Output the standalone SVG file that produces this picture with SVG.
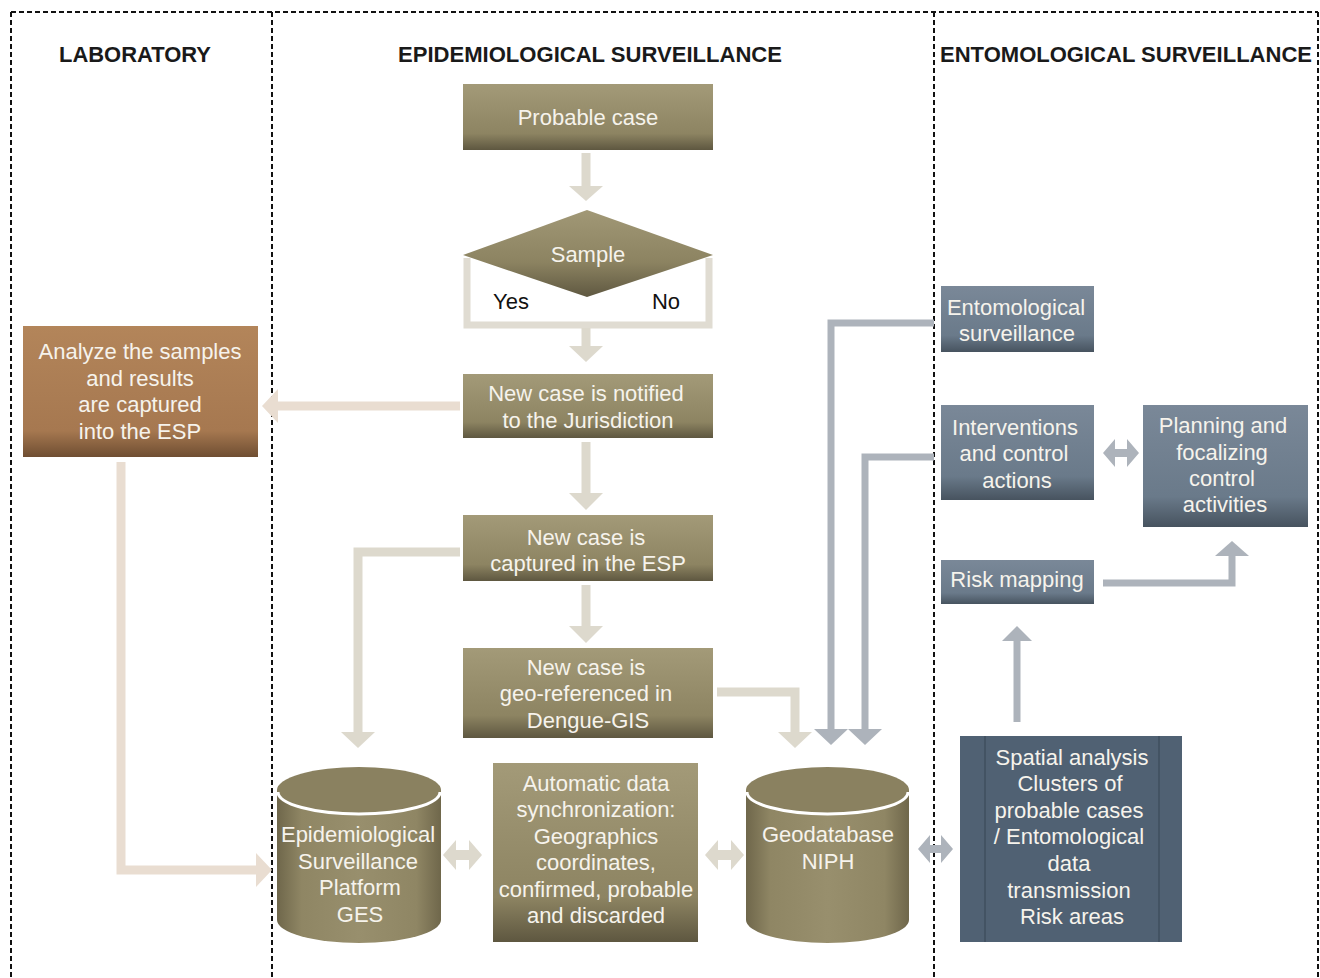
<svg xmlns="http://www.w3.org/2000/svg" width="1320" height="978" viewBox="0 0 1320 978">
<defs>
<linearGradient id="gOl" x1="0" y1="0" x2="0" y2="1">
<stop offset="0" stop-color="#a39a78"/><stop offset="0.75" stop-color="#8d8462"/><stop offset="1" stop-color="#5e5740"/>
</linearGradient>
<linearGradient id="gBr" x1="0" y1="0" x2="0" y2="1">
<stop offset="0" stop-color="#b3855a"/><stop offset="0.8" stop-color="#a67850"/><stop offset="1" stop-color="#6f4e32"/>
</linearGradient>
<linearGradient id="gGr" x1="0" y1="0" x2="0" y2="1">
<stop offset="0" stop-color="#7a8898"/><stop offset="0.75" stop-color="#6a7a8a"/><stop offset="1" stop-color="#47535f"/>
</linearGradient>
<linearGradient id="gCyl" x1="0" y1="0" x2="1" y2="0">
<stop offset="0" stop-color="#6f674b"/><stop offset="0.15" stop-color="#8f8664"/><stop offset="0.5" stop-color="#988f6d"/><stop offset="0.85" stop-color="#8f8664"/><stop offset="1" stop-color="#6f674b"/>
</linearGradient>
<linearGradient id="gDia" x1="0" y1="0" x2="0" y2="1">
<stop offset="0" stop-color="#a19876"/><stop offset="0.6" stop-color="#8c8361"/><stop offset="1" stop-color="#5f5841"/>
</linearGradient>
<style>
.frame{stroke:#111;stroke-width:2;stroke-dasharray:5 3;fill:none}
.hd{font-family:"Liberation Sans",Arial,sans-serif;font-weight:bold;font-size:21.5px;fill:#1a1a1a;text-anchor:middle}
.t{font-family:"Liberation Sans",Arial,sans-serif;font-size:22px;fill:#f6f3ec;text-anchor:middle}
.tb{font-family:"Liberation Sans",Arial,sans-serif;font-size:22px;fill:#111;text-anchor:middle}
.bs{fill:none;stroke:#ddd9cd;stroke-width:9}
.bh{fill:#ddd9cd}
.ps{fill:none;stroke:#e9ddd1;stroke-width:9}
.ph{fill:#e9ddd1}
.gs{fill:none;stroke:#adb3bb;stroke-width:7}
.gh{fill:#adb3bb}
.ol{fill:url(#gOl)}
.gr{fill:url(#gGr)}
</style>
</defs>
<rect width="1320" height="978" fill="#ffffff"/>
<g id="frame">
<line class="frame" x1="11" y1="12" x2="1318" y2="12"/>
<line class="frame" x1="11" y1="12" x2="11" y2="978"/>
<line class="frame" x1="272" y1="12" x2="272" y2="978"/>
<line class="frame" x1="934" y1="12" x2="934" y2="978"/>
<line class="frame" x1="1318" y1="12" x2="1318" y2="978"/>
<text class="hd" x="135" y="62" textLength="152" lengthAdjust="spacingAndGlyphs">LABORATORY</text>
<text class="hd" x="590" y="62" textLength="384" lengthAdjust="spacingAndGlyphs">EPIDEMIOLOGICAL SURVEILLANCE</text>
<text class="hd" x="1126" y="62" textLength="372" lengthAdjust="spacingAndGlyphs">ENTOMOLOGICAL SURVEILLANCE</text>
</g>
<g id="connectors">
<line class="bs" x1="586" y1="153" x2="586" y2="187"/>
<polygon class="bh" points="569,186 603,186 586,201"/>
<polyline fill="none" stroke="#e0dcd2" stroke-width="7" points="467,258 467,325 709,325 709,258"/>
<line class="bs" x1="586" y1="328" x2="586" y2="347"/>
<polygon class="bh" points="569,346 603,346 586,362"/>
<line class="bs" x1="586" y1="442" x2="586" y2="494"/>
<polygon class="bh" points="569,493 603,493 586,510"/>
<line class="bs" x1="586" y1="585" x2="586" y2="627"/>
<polygon class="bh" points="569,626 603,626 586,643"/>
<line class="ps" x1="460" y1="406" x2="277" y2="406"/>
<polygon class="ph" points="278,389 278,423 262,406"/>
<polyline class="bs" points="460,552 358,552 358,733"/>
<polygon class="bh" points="341,732 375,732 358,748"/>
<polyline class="bs" points="717,692 795,692 795,733"/>
<polygon class="bh" points="778,732 812,732 795,748"/>
<polyline class="gs" points="934,323 831,323 831,730"/>
<polygon class="gh" points="814,729 848,729 831,745"/>
<polyline class="gs" points="934,457 865,457 865,730"/>
<polygon class="gh" points="848,729 882,729 865,745"/>
<polyline class="ps" points="121,462 121,870 257,870"/>
<polygon class="ph" points="256,853 256,887 272,870"/>
<polygon class="bh" points="443,855 456,840 456,850 469,850 469,840 482,855 469,870 469,860 456,860 456,870"/>
<polygon class="bh" points="705,855 718,840 718,850 731,850 731,840 744,855 731,870 731,860 718,860 718,870"/>
<polygon class="gh" points="918,849 930,835 930,845 941,845 941,835 953,849 941,863 941,853 930,853 930,863"/>
<polygon class="gh" points="1103,453 1115,439 1115,449 1127,449 1127,439 1139,453 1127,467 1127,457 1115,457 1115,467"/>
<polyline class="gs" points="1103,583 1232,583 1232,555"/>
<polygon class="gh" points="1215,556 1249,556 1232,541"/>
<line class="gs" x1="1017" y1="722" x2="1017" y2="640"/>
<polygon class="gh" points="1002,641 1032,641 1017,626"/>
</g>
<g id="probable">
<rect class="ol" x="463" y="84" width="250" height="66"/>
<text class="t" x="588" y="125">Probable case</text>
</g>
<g id="sample">
<polygon fill="url(#gDia)" points="463,255 587,210 713,255 587,297"/>
<text class="t" x="588" y="262">Sample</text>
<text class="tb" x="511" y="309">Yes</text>
<text class="tb" x="666" y="309">No</text>
</g>
<g id="notified">
<rect class="ol" x="463" y="374" width="250" height="64"/>
<text class="t" x="586" y="401">New case is notified</text>
<text class="t" x="588" y="428">to the Jurisdiction</text>
</g>
<g id="analyze">
<rect fill="url(#gBr)" x="23" y="326" width="235" height="131"/>
<text class="t" x="140" y="359">Analyze the samples</text>
<text class="t" x="140" y="386">and results</text>
<text class="t" x="140" y="412">are captured</text>
<text class="t" x="140" y="439">into the ESP</text>
</g>
<g id="captured">
<rect class="ol" x="463" y="515" width="250" height="66"/>
<text class="t" x="586" y="545">New case is</text>
<text class="t" x="588" y="571">captured in the ESP</text>
</g>
<g id="georef">
<rect class="ol" x="463" y="648" width="250" height="90"/>
<text class="t" x="586" y="675">New case is</text>
<text class="t" x="586" y="701">geo-referenced in</text>
<text class="t" x="588" y="728">Dengue-GIS</text>
</g>
<g id="ges">
<path fill="url(#gCyl)" d="M277,790 L277,920 A82,23 0 0 0 441,920 L441,790 Z"/>
<ellipse cx="359" cy="790" rx="82" ry="23" fill="#8a8160"/>
<path d="M278,792 A81,22 0 0 0 440,792" fill="none" stroke="#ffffff" stroke-width="3"/>
<text class="t" x="358" y="842">Epidemiological</text>
<text class="t" x="358" y="869">Surveillance</text>
<text class="t" x="360" y="895">Platform</text>
<text class="t" x="360" y="922">GES</text>
</g>
<g id="sync">
<rect class="ol" x="493" y="763" width="205" height="179"/>
<text class="t" x="596" y="791">Automatic data</text>
<text class="t" x="596" y="817">synchronization:</text>
<text class="t" x="596" y="844">Geographics</text>
<text class="t" x="596" y="870">coordinates,</text>
<text class="t" x="596" y="897">confirmed, probable</text>
<text class="t" x="596" y="923">and discarded</text>
</g>
<g id="geodb">
<path fill="url(#gCyl)" d="M746,790 L746,920 A81.5,23 0 0 0 909,920 L909,790 Z"/>
<ellipse cx="827.5" cy="790" rx="81.5" ry="23" fill="#8a8160"/>
<path d="M747,792 A80.5,22 0 0 0 908,792" fill="none" stroke="#ffffff" stroke-width="3"/>
<text class="t" x="828" y="842">Geodatabase</text>
<text class="t" x="828" y="869">NIPH</text>
</g>
<g id="entomological">
<rect class="gr" x="941" y="286" width="153" height="66"/>
<text class="t" x="1016" y="315">Entomological</text>
<text class="t" x="1017" y="341">surveillance</text>
</g>
<g id="interventions">
<rect class="gr" x="941" y="405" width="153" height="95"/>
<text class="t" x="1015" y="435">Interventions</text>
<text class="t" x="1014" y="461">and control</text>
<text class="t" x="1017" y="488">actions</text>
</g>
<g id="planning">
<rect class="gr" x="1143" y="405" width="165" height="122"/>
<text class="t" x="1223" y="433">Planning and</text>
<text class="t" x="1222" y="460">focalizing</text>
<text class="t" x="1222" y="486">control</text>
<text class="t" x="1225" y="512">activities</text>
</g>
<g id="risk">
<rect class="gr" x="941" y="560" width="153" height="44"/>
<text class="t" x="1017" y="587">Risk mapping</text>
</g>
<g id="spatial">
<rect fill="#506173" x="960" y="736" width="222" height="206"/>
<line x1="985" y1="736" x2="985" y2="942" stroke="#3f4f5e" stroke-width="1.5"/>
<line x1="1159" y1="736" x2="1159" y2="942" stroke="#3f4f5e" stroke-width="1.5"/>
<text class="t" x="1072" y="765">Spatial analysis</text>
<text class="t" x="1070" y="791">Clusters of</text>
<text class="t" x="1069" y="818">probable cases</text>
<text class="t" x="1069" y="844">/ Entomological</text>
<text class="t" x="1069" y="871">data</text>
<text class="t" x="1069" y="898">transmission</text>
<text class="t" x="1072" y="924">Risk areas</text>
</g>
</svg>
